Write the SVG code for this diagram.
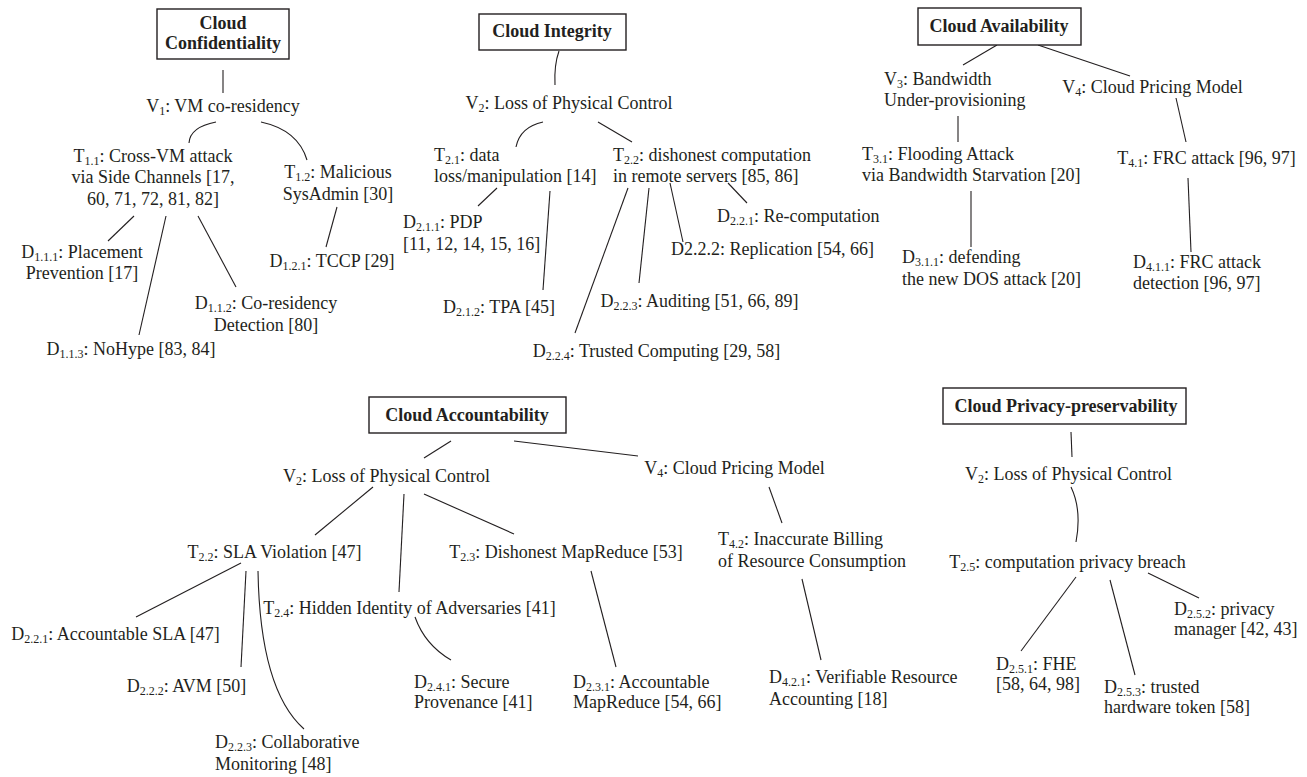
<svg xmlns="http://www.w3.org/2000/svg" width="1307" height="777" viewBox="0 0 1307 777">
<style>
.t{font-family:"Liberation Serif","Times New Roman",serif;font-size:18px;fill:#231f20}
.b{font-weight:bold}
.m{text-anchor:middle}
.s{font-size:12px}
.e{fill:none;stroke:#231f20;stroke-width:1.1}
.box{fill:#fff;stroke:#231f20;stroke-width:1.4}
</style>
<rect width="1307" height="777" fill="#fff"/>
<g id="connectors" class="e">
<path d="M223,70 L223,93"/>
<path d="M216,122 Q190,127 189,143"/>
<path d="M261,122 Q298,130 307,160"/>
<path d="M134,216 L108,241"/>
<path d="M166,216 L139,335"/>
<path d="M198,216 L236,287"/>
<path d="M337,207 L326,247"/>
<path d="M559,51 Q554,65 555,85"/>
<path d="M543,122 Q520,127 516,147"/>
<path d="M598,122 L632,142"/>
<path d="M497,188 L478,206"/>
<path d="M550,191 L543,290"/>
<path d="M628,188 L575,333"/>
<path d="M649,188 L639,283"/>
<path d="M670,183 L683,242"/>
<path d="M728,183 L747,203"/>
<path d="M997,45 L963,65"/>
<path d="M1038,45 L1130,76"/>
<path d="M958,116 L958,142"/>
<path d="M971,191 L971,247"/>
<path d="M1176,98 L1186,142"/>
<path d="M1188,178 L1191,252"/>
<path d="M451,441 L424,458"/>
<path d="M514,441 L638,456"/>
<path d="M373,487 L315,535"/>
<path d="M404,494 L399,592"/>
<path d="M424,494 L514,534"/>
<path d="M241,563 L136,617"/>
<path d="M246,571 L241,667"/>
<path d="M258,571 Q260,690 304,729"/>
<path d="M415,617 Q425,645 451,660"/>
<path d="M591,571 L616,667"/>
<path d="M769,487 L782,523"/>
<path d="M802,579 L821,660"/>
<path d="M1071,432 L1072,457"/>
<path d="M1071,487 Q1082,510 1076,542"/>
<path d="M1076,577 L1021,651"/>
<path d="M1110,580 L1135,675"/>
<path d="M1148,573 L1199,598"/>
</g>

<!-- Cloud Confidentiality -->
<g id="conf-root"><rect class="box" x="157" y="9" width="132" height="50"/>
<text class="t b m" x="223" y="29">Cloud</text><text class="t b m" x="223" y="49">Confidentiality</text></g>
<g id="conf-v1"><text class="t m" x="223" y="112">V<tspan class="s" dy="3">1</tspan><tspan dy="-3">: VM co-residency</tspan></text></g>
<g id="conf-t11"><text class="t m" x="153" y="161.5">T<tspan class="s" dy="3">1.1</tspan><tspan dy="-3">: Cross-VM attack</tspan></text>
<text class="t m" x="153" y="183">via Side Channels [17,</text><text class="t m" x="153" y="204.5">60, 71, 72, 81, 82]</text></g>
<g id="conf-t12"><text class="t m" x="338" y="178">T<tspan class="s" dy="3">1.2</tspan><tspan dy="-3">: Malicious</tspan></text>
<text class="t m" x="338" y="199.5">SysAdmin [30]</text></g>
<g id="conf-d111"><text class="t m" x="82" y="258">D<tspan class="s" dy="3">1.1.1</tspan><tspan dy="-3">: Placement</tspan></text>
<text class="t m" x="82" y="279">Prevention [17]</text></g>
<g id="conf-d121"><text class="t m" x="332" y="267">D<tspan class="s" dy="3">1.2.1</tspan><tspan dy="-3">: TCCP [29]</tspan></text></g>
<g id="conf-d112"><text class="t m" x="266" y="309">D<tspan class="s" dy="3">1.1.2</tspan><tspan dy="-3">: Co-residency</tspan></text>
<text class="t m" x="266" y="331">Detection [80]</text></g>
<g id="conf-d113"><text class="t m" x="131" y="355">D<tspan class="s" dy="3">1.1.3</tspan><tspan dy="-3">: NoHype [83, 84]</tspan></text></g>

<!-- Cloud Integrity -->
<g id="int-root"><rect class="box" x="479" y="14" width="147" height="36"/>
<text class="t b m" x="552" y="37">Cloud Integrity</text></g>
<g id="int-v2"><text class="t m" x="569" y="109">V<tspan class="s" dy="3">2</tspan><tspan dy="-3">: Loss of Physical Control</tspan></text></g>
<g id="int-t21"><text class="t" x="434" y="161">T<tspan class="s" dy="3">2.1</tspan><tspan dy="-3">: data</tspan></text>
<text class="t" x="434" y="182">loss/manipulation [14]</text></g>
<g id="int-t22"><text class="t" x="613" y="161">T<tspan class="s" dy="3">2.2</tspan><tspan dy="-3">: dishonest computation</tspan></text>
<text class="t" x="613" y="182">in remote servers [85, 86]</text></g>
<g id="int-d211"><text class="t" x="403" y="228">D<tspan class="s" dy="3">2.1.1</tspan><tspan dy="-3">: PDP</tspan></text>
<text class="t" x="403" y="250">[11, 12, 14, 15, 16]</text></g>
<g id="int-d212"><text class="t m" x="499" y="313">D<tspan class="s" dy="3">2.1.2</tspan><tspan dy="-3">: TPA [45]</tspan></text></g>
<g id="int-d221"><text class="t" x="717" y="222">D<tspan class="s" dy="3">2.2.1</tspan><tspan dy="-3">: Re-computation</tspan></text></g>
<g id="int-d222"><text class="t" x="671" y="255">D2.2.2: Replication [54, 66]</text></g>
<g id="int-d223"><text class="t m" x="699.5" y="307">D<tspan class="s" dy="3">2.2.3</tspan><tspan dy="-3">: Auditing [51, 66, 89]</tspan></text></g>
<g id="int-d224"><text class="t m" x="656.5" y="357">D<tspan class="s" dy="3">2.2.4</tspan><tspan dy="-3">: Trusted Computing [29, 58]</tspan></text></g>

<!-- Cloud Availability -->
<g id="av-root"><rect class="box" x="918" y="8" width="163" height="37"/>
<text class="t b m" x="999" y="32">Cloud Availability</text></g>
<g id="av-v3"><text class="t" x="884" y="85">V<tspan class="s" dy="3">3</tspan><tspan dy="-3">: Bandwidth</tspan></text>
<text class="t" x="884" y="106">Under-provisioning</text></g>
<g id="av-v4"><text class="t m" x="1152.5" y="93">V<tspan class="s" dy="3">4</tspan><tspan dy="-3">: Cloud Pricing Model</tspan></text></g>
<g id="av-t31"><text class="t" x="862" y="160">T<tspan class="s" dy="3">3.1</tspan><tspan dy="-3">: Flooding Attack</tspan></text>
<text class="t" x="862" y="181">via Bandwidth Starvation [20]</text></g>
<g id="av-d311"><text class="t" x="902" y="263">D<tspan class="s" dy="3">3.1.1</tspan><tspan dy="-3">: defending</tspan></text>
<text class="t" x="902" y="285">the new DOS attack [20]</text></g>
<g id="av-t41"><text class="t m" x="1206.5" y="164">T<tspan class="s" dy="3">4.1</tspan><tspan dy="-3">: FRC attack [96, 97]</tspan></text></g>
<g id="av-d411"><text class="t" x="1133" y="268">D<tspan class="s" dy="3">4.1.1</tspan><tspan dy="-3">: FRC attack</tspan></text>
<text class="t" x="1133" y="289">detection [96, 97]</text></g>

<!-- Cloud Accountability -->
<g id="acc-root"><rect class="box" x="369" y="397" width="197" height="36"/>
<text class="t b m" x="467" y="421">Cloud Accountability</text></g>
<g id="acc-v2"><text class="t m" x="386.5" y="482">V<tspan class="s" dy="3">2</tspan><tspan dy="-3">: Loss of Physical Control</tspan></text></g>
<g id="acc-v4"><text class="t m" x="734.5" y="474">V<tspan class="s" dy="3">4</tspan><tspan dy="-3">: Cloud Pricing Model</tspan></text></g>
<g id="acc-t22"><text class="t m" x="274.5" y="558">T<tspan class="s" dy="3">2.2</tspan><tspan dy="-3">: SLA Violation [47]</tspan></text></g>
<g id="acc-t23"><text class="t m" x="566" y="558">T<tspan class="s" dy="3">2.3</tspan><tspan dy="-3">: Dishonest MapReduce [53]</tspan></text></g>
<g id="acc-t24"><text class="t m" x="409.5" y="614">T<tspan class="s" dy="3">2.4</tspan><tspan dy="-3">: Hidden Identity of Adversaries [41]</tspan></text></g>
<g id="acc-t42"><text class="t" x="718" y="545">T<tspan class="s" dy="3">4.2</tspan><tspan dy="-3">: Inaccurate Billing</tspan></text>
<text class="t" x="718" y="567">of Resource Consumption</text></g>
<g id="acc-d221"><text class="t m" x="115.5" y="640">D<tspan class="s" dy="3">2.2.1</tspan><tspan dy="-3">: Accountable SLA [47]</tspan></text></g>
<g id="acc-d222"><text class="t m" x="186.5" y="692">D<tspan class="s" dy="3">2.2.2</tspan><tspan dy="-3">: AVM [50]</tspan></text></g>
<g id="acc-d223"><text class="t" x="215" y="748">D<tspan class="s" dy="3">2.2.3</tspan><tspan dy="-3">: Collaborative</tspan></text>
<text class="t" x="215" y="770">Monitoring [48]</text></g>
<g id="acc-d241"><text class="t" x="414" y="688">D<tspan class="s" dy="3">2.4.1</tspan><tspan dy="-3">: Secure</tspan></text>
<text class="t" x="414" y="708">Provenance [41]</text></g>
<g id="acc-d231"><text class="t" x="573" y="688">D<tspan class="s" dy="3">2.3.1</tspan><tspan dy="-3">: Accountable</tspan></text>
<text class="t" x="573" y="708">MapReduce [54, 66]</text></g>
<g id="acc-d421"><text class="t" x="769" y="683">D<tspan class="s" dy="3">4.2.1</tspan><tspan dy="-3">: Verifiable Resource</tspan></text>
<text class="t" x="769" y="705">Accounting [18]</text></g>

<!-- Cloud Privacy-preservability -->
<g id="priv-root"><rect class="box" x="943" y="388" width="243" height="36"/>
<text class="t b m" x="1066" y="412">Cloud Privacy-preservability</text></g>
<g id="priv-v2"><text class="t m" x="1068.5" y="480">V<tspan class="s" dy="3">2</tspan><tspan dy="-3">: Loss of Physical Control</tspan></text></g>
<g id="priv-t25"><text class="t m" x="1067.5" y="568">T<tspan class="s" dy="3">2.5</tspan><tspan dy="-3">: computation privacy breach</tspan></text></g>
<g id="priv-d251"><text class="t" x="996" y="670">D<tspan class="s" dy="3">2.5.1</tspan><tspan dy="-3">: FHE</tspan></text>
<text class="t" x="996" y="690">[58, 64, 98]</text></g>
<g id="priv-d252"><text class="t" x="1174" y="615">D<tspan class="s" dy="3">2.5.2</tspan><tspan dy="-3">: privacy</tspan></text>
<text class="t" x="1174" y="635">manager [42, 43]</text></g>
<g id="priv-d253"><text class="t" x="1104" y="693">D<tspan class="s" dy="3">2.5.3</tspan><tspan dy="-3">: trusted</tspan></text>
<text class="t" x="1104" y="713">hardware token [58]</text></g>
</svg>
